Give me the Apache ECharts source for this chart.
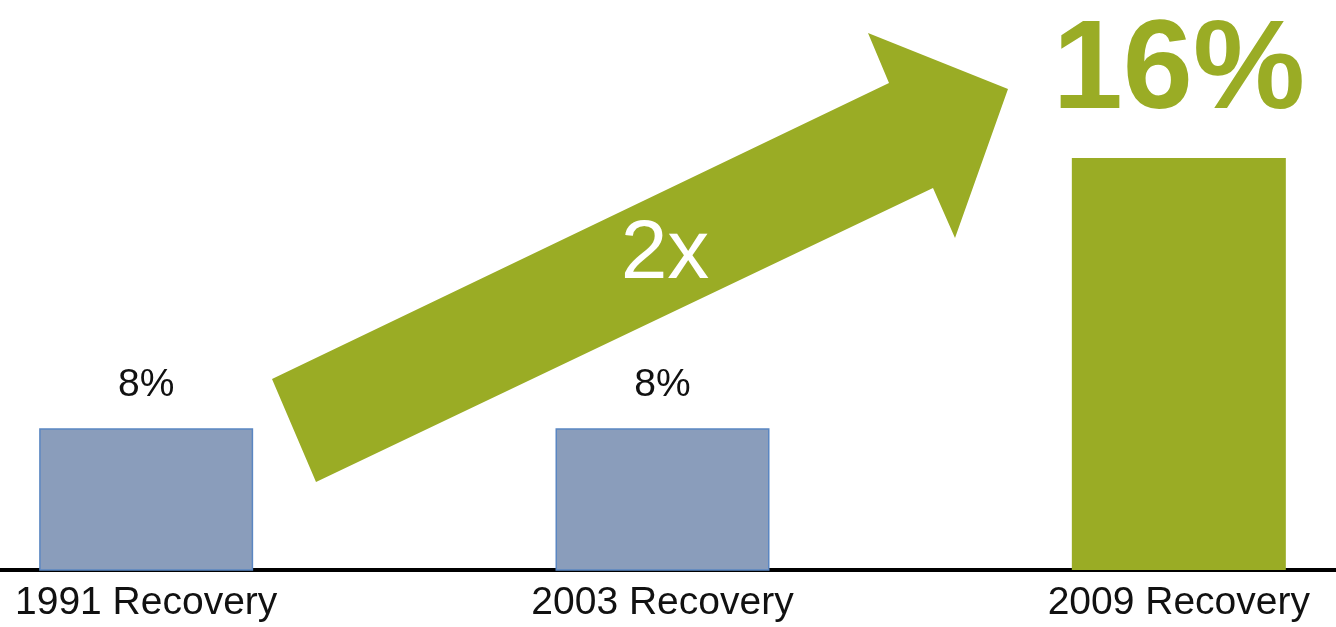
<!DOCTYPE html>
<html>
<head>
<meta charset="utf-8">
<style>
  html, body { margin: 0; padding: 0; background: #fff; }
  #myChart { width: 1336px; height: 627px; }
</style>
<script src="https://cdn.jsdelivr.net/npm/echarts@6/dist/echarts.min.js"></script>
</head>
<body>
<div id="myChart"></div>
<script>
// data
var categories = ['1991 Recovery', '2003 Recovery', '2009 Recovery']
var values = [8, 8, 16]
var valueLabels = ['8%', '8%', '16%']
var arrowText = '2x'

var blue = '#8A9DBB'
var green = '#9AAC25'

var myChart = echarts.init(document.getElementById('myChart'))

var seriesData = values.map(function (v, i) {
  var highlight = i === values.length - 1
  return {
    value: v,
    itemStyle: highlight
      ? { color: green }
      : { color: blue, borderColor: '#5A86C2', borderWidth: 1.5 },
    label: highlight
      ? {
          fontSize: 126,
          fontWeight: 'bold',
          color: green,
          lineHeight: 126,
          distance: 22,
        }
      : {
          fontSize: 39,
          color: '#111',
          distance: 23,
        },
  }
})

myChart.setOption({
  animation: false,
  grid: {
    left: -112,
    right: -101,
    top: 158,
    bottom: 57,
    containLabel: false,
    outerBoundsMode: 'none',
  },
  xAxis: {
    type: 'category',
    data: categories,
    axisTick: { show: false },
    axisLine: {
      lineStyle: { color: '#000', width: 4 },
    },
    axisLabel: {
      fontSize: 39,
      color: '#111',
      margin: 14,
      fontFamily: 'Liberation Sans, Arial, sans-serif',
    },
  },
  yAxis: {
    type: 'value',
    // truncated scale, as in the slide
    min: 3.8,
    max: 16,
    show: false,
    splitLine: { show: false },
  },
  graphic: [
    {
      type: 'polygon',
      z: 1,
      shape: {
        points: [
          [272, 379],
          [889, 83],
          [868, 33],
          [1008, 89],
          [955, 238],
          [933, 188],
          [316, 482],
        ],
      },
      style: { fill: green },
    },
    {
      type: 'text',
      z: 2,
      x: 665,
      y: 255,
      style: {
        text: arrowText,
        fill: '#fff',
        fontSize: 84,
        fontFamily: 'Liberation Sans, Arial, sans-serif',
        align: 'center',
        verticalAlign: 'middle',
      },
    },
  ],
  series: [
    {
      type: 'bar',
      barWidth: 214,
      data: seriesData,
      label: {
        show: true,
        position: 'top',
        fontFamily: 'Liberation Sans, Arial, sans-serif',
        formatter: function (p) {
          return valueLabels[p.dataIndex]
        },
      },
    },
  ],
})
</script>
</body>
</html>
